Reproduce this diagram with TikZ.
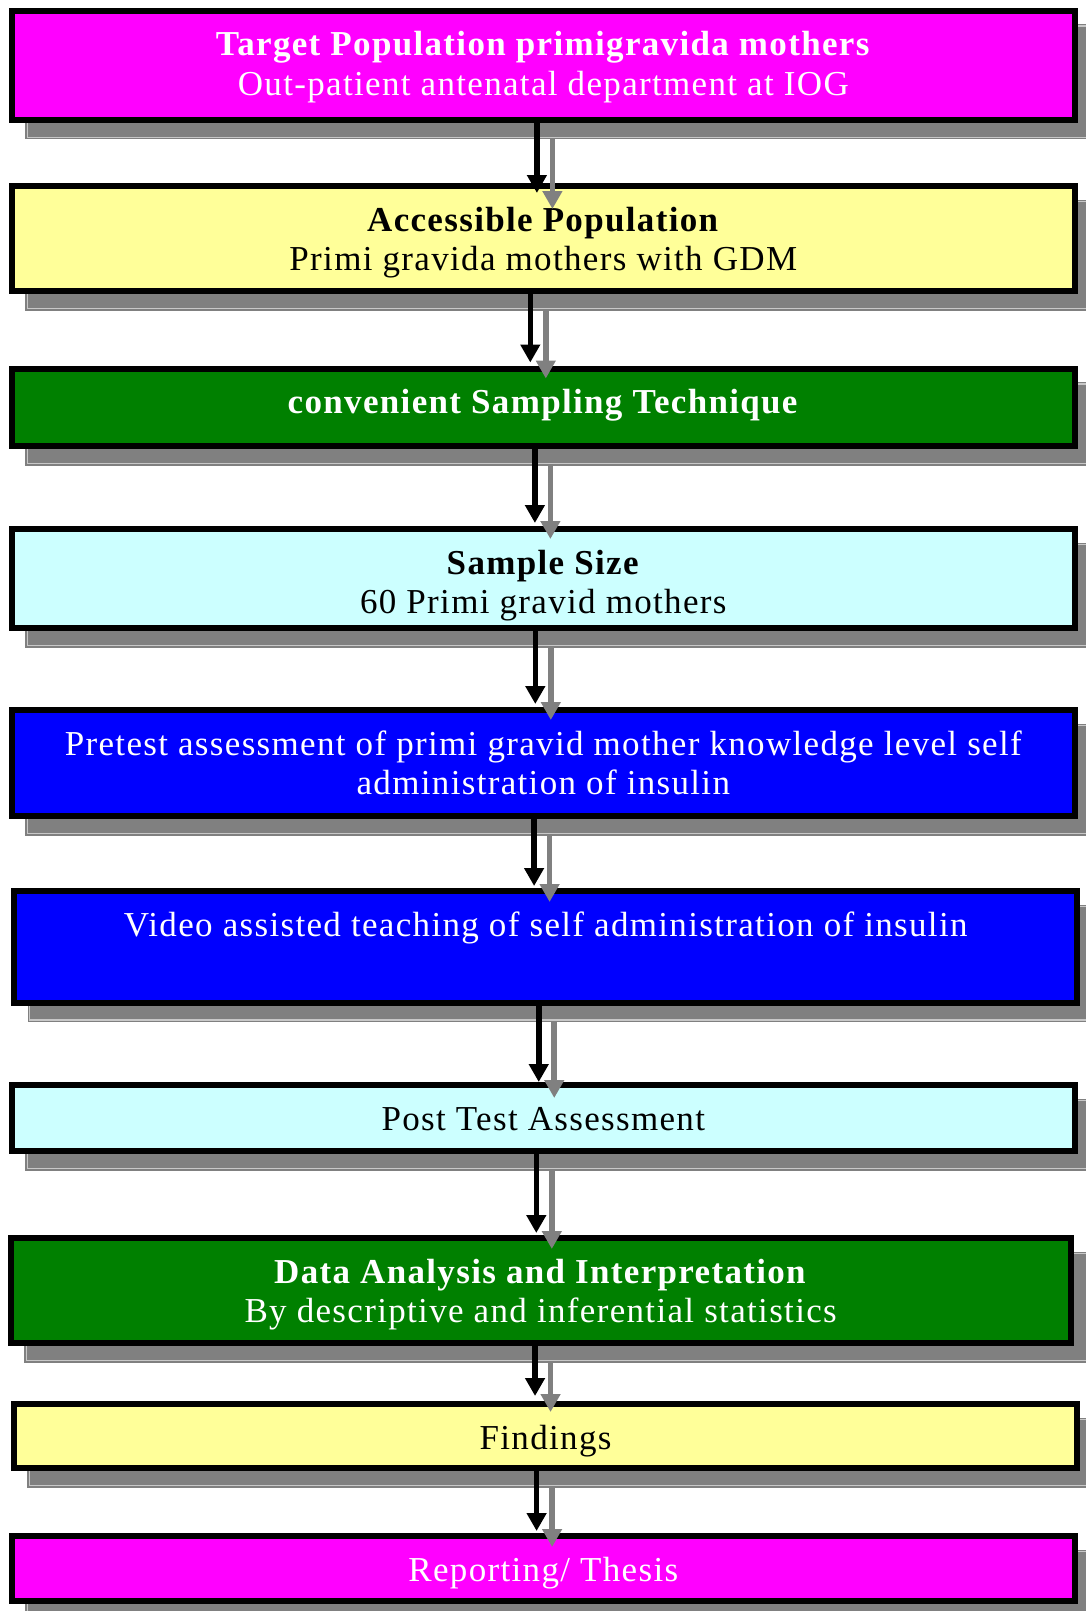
\documentclass[tikz,border=0pt]{standalone}
\usepackage{fontspec}
\setmainfont{Liberation Serif}[LetterSpace=3.8]
\usetikzlibrary{positioning}
\usetikzlibrary{arrows.meta}
\usetikzlibrary{backgrounds}
\definecolor{magentabox}{RGB}{255,0,255}
\definecolor{yellowbox}{RGB}{255,255,153}
\definecolor{greenbox}{RGB}{0,128,0}
\definecolor{cyanbox}{RGB}{204,255,255}
\definecolor{bluebox}{RGB}{0,0,255}
\definecolor{shadowgray}{RGB}{128,128,128}
\definecolor{shadowedge}{RGB}{200,200,200}
\newcommand{\capline}{\rule{0pt}{13pt}}

\begin{document}
\begin{tikzpicture}[x=0.5pt, y=-0.5pt,
  stage/.style={draw=black, line width=3pt, minimum width=531.7pt, inner sep=0pt},
  caption/.style={inner sep=0pt, align=center, font=\fontsize{17.5}{19.75}\selectfont},
  flow/.style={line width=2.8pt, -{Triangle[length=9pt,width=9.5pt]}},
]

  \useasboundingbox (0,0) rectangle (1086,1611);

  % Stages
  \node[stage, fill=magentabox, minimum height=54.7pt]  (target)    at (543.3,65.3)   {};
  \node[stage, fill=yellowbox, minimum height=52.5pt]   (access)    at (543.3,238.5)  {};
  \node[stage, fill=greenbox, minimum height=38.75pt]   (sampling)  at (543.3,407.25) {};
  \node[stage, fill=cyanbox, minimum height=49.5pt]     (size)      at (543.3,578.5)  {};
  \node[stage, fill=bluebox, minimum height=53pt]       (pretest)   at (543.3,763)    {};
  \node[stage, fill=bluebox, minimum height=55.75pt]    (teaching)  at (545.75,946.75) {};
  \node[stage, fill=cyanbox, minimum height=33pt]       (posttest)  at (543.3,1118)   {};
  \node[stage, fill=greenbox, minimum height=52.5pt, minimum width=530pt] (analysis) at (540.65,1290.5) {};
  \node[stage, fill=yellowbox, minimum height=32pt]     (findings)  at (545.6,1436)   {};
  \node[stage, fill=magentabox, minimum height=32.5pt]  (reporting) at (543.3,1568.5) {};

  % Shadows
  \begin{scope}[on background layer]
    \foreach \b in {target,access,sampling,size,pretest,teaching,posttest,analysis,findings,reporting}{
      \fill[shadowgray] ([shift={(16.5,16.5)}]\b.north west) rectangle ([shift={(16.5,16.5)}]\b.south east);
      \draw[shadowedge, line width=0.6pt] ([shift={(18.5,18.5)}]\b.north west) rectangle ([shift={(14.5,14.5)}]\b.south east);
    }
  \end{scope}

  % Texts
  \node[caption, text=white, below=11pt of target.north] (target text)
    {\capline\textbf{Target Population primigravida mothers}\\Out-patient antenatal department at IOG};
  \node[caption, below=11pt of access.north] (access text)
    {\capline\textbf{Accessible Population}\\Primi gravida mothers with GDM};
  \node[caption, text=white, below=11pt of sampling.north] (sampling text)
    {\capline\textbf{convenient Sampling Technique}};
  \node[caption, below=11pt of size.north] (size text)
    {\capline\textbf{Sample Size}\\60 Primi gravid mothers};
  \node[caption, text=white, below=11pt of pretest.north] (pretest text)
    {\capline Pretest assessment of primi gravid mother knowledge level self\\administration of insulin};
  \node[caption, text=white, below=11pt of teaching.north] (teaching text)
    {\capline Video assisted teaching of self administration of insulin};
  \node[caption, below=11pt of posttest.north] (posttest text)
    {\capline Post Test Assessment};
  \node[caption, text=white, below=11pt of analysis.north] (analysis text)
    {\capline\textbf{Data Analysis and Interpretation}\\By descriptive and inferential statistics};
  \node[caption, below=11pt of findings.north] (findings text)
    {\capline Findings};
  \node[caption, text=white, below=11pt of reporting.north] (reporting text)
    {\capline Reporting/ Thesis};

  % Arrows with their shadows
  \foreach \a/\b/\s/\t in {target/access/-3.2/-5, access/sampling/-6.5/1.5, sampling/size/-4.2/1.5,
      size/pretest/-4/1.5, pretest/teaching/-4.6/1, teaching/posttest/-3.5/0,
      posttest/analysis/-3.5/1, analysis/findings/-2.8/2.5, findings/reporting/-4.5/1}{
    \pgfmathsetmacro\g{\t-8}
    \coordinate (tail) at ([xshift=\s pt]\a.south);
    \coordinate (shadow tail) at ([xshift=\s pt, xshift=7.75pt, yshift=-8.25pt]\a.south);
    \draw[flow, shadowgray, shorten >=\g pt] (shadow tail) -- (shadow tail |- \b.north);
    \draw[flow, shorten >=\t pt] (tail) -- (tail |- \b.north);
  }

\end{tikzpicture}
\end{document}
